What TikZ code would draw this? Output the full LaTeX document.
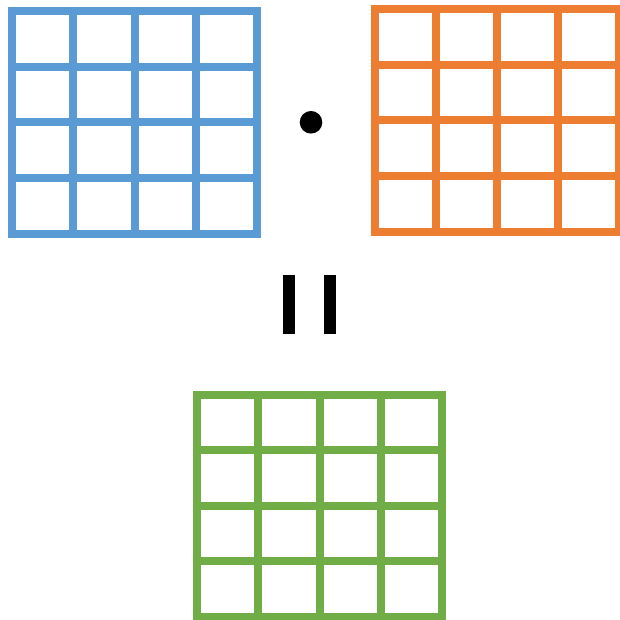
\documentclass[tikz,border=0pt]{standalone}
\usepackage{tikz}
\usepackage{xcolor}

\definecolor{matblue}{HTML}{5B9BD5}
\definecolor{matorange}{HTML}{ED7D31}
\definecolor{matgreen}{HTML}{70AD47}

\begin{document}
\begin{tikzpicture}[
  x=1pt, y=1pt,
  matgrid/.style={line width=8pt, line cap=rect},
  bar/.style={fill=black, draw=none}
]
\useasboundingbox (0,0) rectangle (620,620);

% left factor
\draw[matgrid, matblue, shift={(12,386)}, xstep=61.25, ystep=55.75] (0,0) grid (245,223);
% right factor
\draw[matgrid, matorange, shift={(375,388)}, xstep=61, ystep=55.75] (0,0) grid (244,223);
% product
\draw[matgrid, matgreen, shift={(197,3)}, xstep=61.25, ystep=55.5] (0,0) grid (245,222);

% dot and rotated equals sign
\fill (311,497.7) circle (11.3);
\path[bar] (283.3,285.7) rectangle (295.3,344.7);
\path[bar] (324,285.7) rectangle (336.3,344.7);
\end{tikzpicture}
\end{document}
